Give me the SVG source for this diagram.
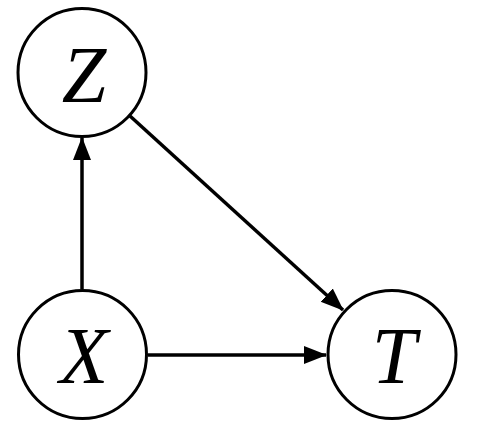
<svg xmlns="http://www.w3.org/2000/svg" width="479" height="438" viewBox="0 0 479 438">
<style>
.node circle{fill:#fff;stroke:#000;stroke-width:3}
.node text{font-family:"Liberation Serif","DejaVu Serif",serif;font-style:italic;font-size:80px;text-anchor:middle;fill:#000}
.edge{stroke:#000;stroke-width:3.5;fill:none}
</style>
<defs>
<marker id="ah" markerUnits="userSpaceOnUse" markerWidth="24" markerHeight="20" viewBox="0 0 24 20" refX="22" refY="10" orient="auto">
<path d="M0,1 L23,10 L0,19 Z" fill="#000"/>
</marker>
</defs>
<rect width="479" height="438" fill="#fff"/>
<g id="connectors">
<line class="edge" x1="82" y1="289" x2="82" y2="138" marker-end="url(#ah)"/>
<line class="edge" x1="148" y1="355" x2="326" y2="355" marker-end="url(#ah)"/>
<line class="edge" x1="130" y1="116" x2="343" y2="310" marker-end="url(#ah)"/>
</g>
<g id="Z" class="node"><circle cx="82" cy="72.5" r="64"/><text x="84" y="102">Z</text></g>
<g id="X" class="node"><circle cx="82.5" cy="354.5" r="64"/><text x="84" y="383">X</text></g>
<g id="T" class="node"><circle cx="392" cy="354.5" r="64"/><text x="394" y="383">T</text></g>
</svg>
